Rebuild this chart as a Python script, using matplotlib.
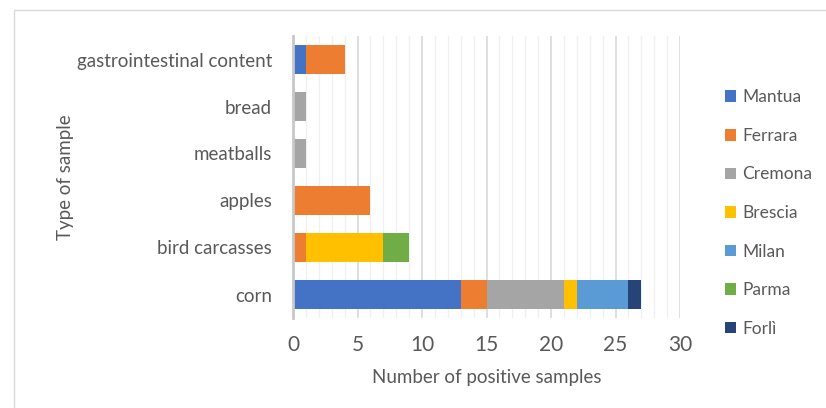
import matplotlib.pyplot as plt
import numpy as np
from matplotlib.patches import Rectangle

# Sample types (bottom to top) and positive counts per province
sample_types = ['corn', 'bird carcasses', 'apples', 'meatballs', 'bread',
                'gastrointestinal content']
provinces = ['Mantua', 'Ferrara', 'Cremona', 'Brescia', 'Milan', 'Parma', 'Forlì']

mantua = [13, 0, 0, 0, 0, 1]
ferrara = [2, 1, 6, 0, 0, 3]
cremona = [6, 0, 0, 1, 1, 0]
brescia = [1, 6, 0, 0, 0, 0]
milan = [4, 0, 0, 0, 0, 0]
parma = [0, 2, 0, 0, 0, 0]
forli = [1, 0, 0, 0, 0, 0]

colors = ['#4472C4', '#ED7D31', '#A5A5A5', '#FFC000', '#5B9BD5', '#70AD47', '#264478']
text_color = '#595959'

plt.rcParams['font.family'] = ['Lato', 'DejaVu Sans']

fig = plt.figure(figsize=(8.26, 4.08), dpi=100)
ax = fig.add_axes([293 / 826, 1 - 318 / 408, 387 / 826, 282 / 408])

# outer chart border
fig.patches.append(Rectangle((14 / 826, -0.01), 1.0, 1 - 10 / 408 + 0.01,
                             transform=fig.transFigure, fill=False,
                             edgecolor='#D9D9D9', linewidth=1))

y = np.arange(len(sample_types))
left = np.zeros(len(sample_types))
series = [mantua, ferrara, cremona, brescia, milan, parma, forli]
for name, vals, c in zip(provinces, series, colors):
    vals = np.array(vals, dtype=float)
    ax.barh(y, vals, left=left, height=0.6, color=c, label=name, zorder=3)
    left += vals

ax.set_xlim(0, 30)
ax.set_ylim(-0.5, len(sample_types) - 0.5)
ax.set_xticks(np.arange(0, 31, 5))
ax.set_xticks(np.arange(0, 31, 1), minor=True)
ax.set_yticks(y)
ax.set_yticklabels(sample_types)

ax.grid(axis='x', which='major', color='#D9D9D9', linewidth=1.2, zorder=0)
ax.grid(axis='x', which='minor', color='#F0F0F0', linewidth=1.0, zorder=0)
ax.set_axisbelow(True)

for s in ['top', 'right', 'bottom']:
    ax.spines[s].set_visible(False)
ax.spines['left'].set_color('#C8C8C8')
ax.spines['left'].set_linewidth(2)
ax.spines['left'].set_zorder(4)

ax.tick_params(axis='both', which='both', length=0, colors=text_color)
ax.tick_params(axis='x', labelsize=15, pad=12)
ax.tick_params(axis='y', labelsize=13.5, pad=15)

ax.set_xlabel('Number of positive samples', fontsize=13.5, color=text_color,
              labelpad=10)
ax.set_ylabel('Type of sample', fontsize=13.5, color=text_color, labelpad=2)

leg = ax.legend(loc='center left', bbox_to_anchor=(725 / 826, 1 - 213 / 408),
                bbox_transform=fig.transFigure, frameon=False,
                borderaxespad=0, borderpad=0,
                handlelength=0.65, handleheight=0.65, handletextpad=0.35,
                labelspacing=1.3, fontsize=12.5)
for t in leg.get_texts():
    t.set_color(text_color)

fig.savefig('out.png', dpi=100)
